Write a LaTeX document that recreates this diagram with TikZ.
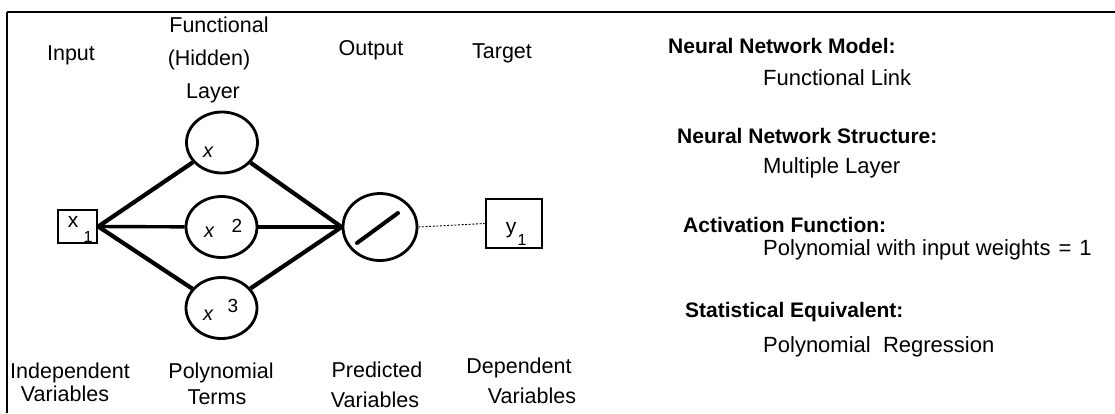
\documentclass[tikz,border=0pt]{standalone}
\usepackage{fontspec}
\setmainfont{Liberation Sans}
\usetikzlibrary{shapes.geometric}

\begin{document}
\begin{tikzpicture}[x=1pt,y=-1pt,
  lbl/.style={inner sep=0pt,anchor=base,font=\fontsize{21.5}{26}\selectfont},
  head/.style={inner sep=0pt,anchor=base west,font=\fontsize{21}{26}\selectfont\bfseries},
  info/.style={inner sep=0pt,anchor=base west,font=\fontsize{22}{26}\selectfont},
  unit/.style={draw,ellipse,line width=2.8pt,minimum width=71pt,minimum height=61pt,inner sep=0pt},
  varbox/.style={draw,rectangle,line width=2.5pt,inner sep=0pt},
  sym/.style={inner sep=0pt,anchor=base,font=\fontsize{21}{24}\selectfont},
  isym/.style={inner sep=0pt,anchor=base,font=\fontsize{20}{24}\selectfont\itshape},
  idx/.style={inner sep=0pt,anchor=base,font=\fontsize{19}{22}\selectfont},
  sub/.style={inner sep=0pt,anchor=base,font=\fontsize{16}{18}\selectfont},
  wire/.style={line width=4.2pt},
  thinwire/.style={line width=3.4pt}]
\useasboundingbox (0,0) rectangle (1115,413);

% frame
\draw[line width=2pt] (7,12) -- (1115,12);
\draw[line width=1.4pt] (7,12) -- (7,413);

% column headings
\node[lbl] (hIn)  at (71,60)  {Input};
\node[lbl] (hF1)  at (219,32) {Functional};
\node[lbl] (hF2)  at (209,65) {(Hidden)};
\node[lbl] (hF3)  at (213,98) {Layer};
\node[lbl] (hOut) at (371,55) {Output};
\node[lbl] (hTg)  at (502,58) {Target};

% column footers
\node[lbl] (fIn1)  at (70,378)  {Independent};
\node[lbl] (fIn2)  at (65,401)  {Variables};
\node[lbl] (fPo1)  at (221,378) {Polynomial};
\node[lbl] (fPo2)  at (217,404) {Terms};
\node[lbl] (fPr1)  at (377,377) {Predicted};
\node[lbl] (fPr2)  at (375,407) {Variables};
\node[lbl] (fDe1)  at (519,373) {Dependent};
\node[lbl] (fDe2)  at (532,403) {Variables};

% input and target boxes
\node[varbox,minimum width=39pt,minimum height=33pt] (x1) at (77.5,226.5) {};
\node[sym] (x1a) at (73,227) {x};
\node[sub] (x1b) at (88,242) {1};

\node[varbox,minimum width=56pt,minimum height=49pt,line width=2.7pt] (y1) at (514,223.5) {};
\node[sym] (y1a) at (511,233) {y};
\node[sub] (y1b) at (522,245) {1};

% functional units
\node[unit] (h1) at (222,142.5) {};
\node[unit] (h2) at (221.5,227) {};
\node[unit] (h3) at (221.5,308) {};
\node[isym] (h1a) at (208,157) {x};
\node[isym] (h2a) at (209,237) {x};
\node[idx]  (h2b) at (237,232) {2};
\node[isym] (h3a) at (208,320) {x};
\node[idx]  (h3b) at (233,312) {3};

% output unit with linear activation
\node[unit,minimum width=74pt,minimum height=67pt] (out) at (380,227) {};
\draw[line width=4pt,line cap=round] ([shift={(-23,16)}]out.center) -- ([shift={(18,-14)}]out.center);

% connections
\draw[wire] (x1.east) -- (h1);
\draw[thinwire] (x1.east) -- (h2);
\draw[wire] (x1.east) -- (h3);
\draw[wire] (h1) -- (out.west);
\draw[thinwire] (h2) -- (out.west);
\draw[wire] (h3) -- (out.west);
\draw[line width=0.9pt,dash pattern=on 2pt off 1.6pt] (out.east) -- (y1.west);

% model description
\node[head] (m1) at (668,53)  {Neural Network Model:};
\node[info] (m2) at (763,85)  {Functional Link};
\node[head] (s1) at (677,143) {Neural Network Structure:};
\node[info] (s2) at (763,173) {Multiple Layer};
\node[head] (a1) at (683,232) {Activation Function:};
\node[info] (a2) at (763,255) {Polynomial with input weights\hspace{8pt}=\hspace{8pt}1};
\node[head] (e1) at (685,317) {Statistical Equivalent:};
\node[info] (e2) at (763,352) {Polynomial\ \ Regression};
\end{tikzpicture}
\end{document}
